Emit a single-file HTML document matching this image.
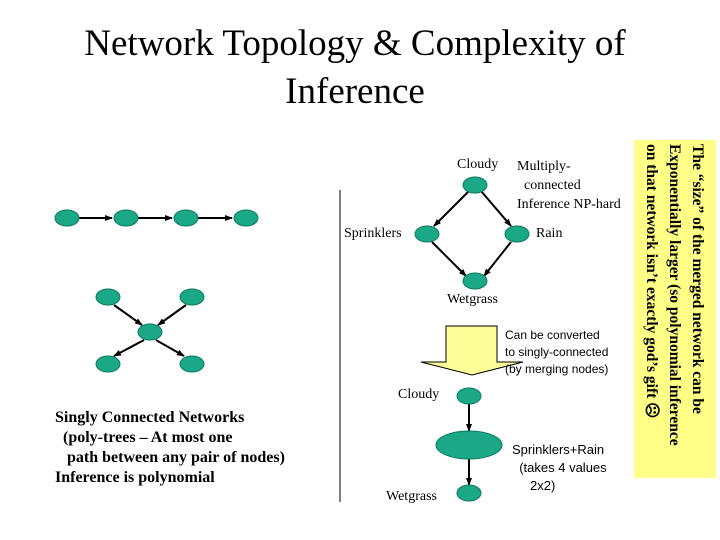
<!DOCTYPE html>
<html><head><style>
body{margin:0;width:720px;height:540px;background:#fff;position:relative;overflow:hidden;font-family:"Liberation Serif",serif}
.t{position:absolute;white-space:nowrap}
</style></head><body>
<div class="t" style="left:0;width:710px;text-align:center;top:20px;font-size:37px;line-height:48px">Network Topology &amp; Complexity of<br>Inference</div>
<svg width="720" height="540" style="position:absolute;left:0;top:0">
<defs><marker id="a" markerWidth="8" markerHeight="8" refX="7" refY="4" orient="auto" markerUnits="userSpaceOnUse"><path d="M0,1 L8,4 L0,7z" fill="#000"/></marker></defs>
<g stroke="#000" stroke-width="2" marker-end="url(#a)">
<line x1="78" y1="218" x2="112" y2="218"/><line x1="138" y1="218" x2="172" y2="218"/><line x1="198" y1="218" x2="232" y2="218"/>
<line x1="114" y1="305" x2="142" y2="325"/><line x1="186" y1="305" x2="158" y2="325"/>
<line x1="144" y1="340" x2="114" y2="356"/><line x1="156" y1="340" x2="184" y2="356"/>
<line x1="469" y1="191" x2="434" y2="226"/><line x1="481" y1="191" x2="511" y2="226"/>
<line x1="432" y1="242" x2="466" y2="276"/><line x1="511" y1="242" x2="484" y2="276"/>
<line x1="469" y1="404" x2="469" y2="431"/><line x1="469" y1="459" x2="469" y2="485"/>
</g>
<g fill="#1aa886" stroke="#0f7a60" stroke-width="1">
<ellipse cx="67" cy="218" rx="12" ry="8"/><ellipse cx="126" cy="218" rx="12" ry="8"/><ellipse cx="186" cy="218" rx="12" ry="8"/><ellipse cx="246" cy="218" rx="12" ry="8"/>
<ellipse cx="108" cy="297" rx="12" ry="8"/><ellipse cx="192" cy="297" rx="12" ry="8"/><ellipse cx="150" cy="332" rx="12" ry="8"/><ellipse cx="108" cy="364" rx="12" ry="8"/><ellipse cx="192" cy="364" rx="12" ry="8"/>
<ellipse cx="475" cy="185" rx="12" ry="8"/><ellipse cx="427" cy="234" rx="12" ry="8"/><ellipse cx="517" cy="234" rx="12" ry="8"/><ellipse cx="475" cy="281" rx="12" ry="8"/>
<ellipse cx="469" cy="396" rx="12" ry="8"/><ellipse cx="469" cy="445" rx="33" ry="14"/><ellipse cx="469" cy="493" rx="12" ry="8"/>
</g>
<line x1="340" y1="190" x2="340" y2="502" stroke="#000" stroke-width="1"/>
<path d="M446,326 L497,326 L497,362 L523,362 L472,375 L421,362 L446,362z" fill="#ffff99" stroke="#000" stroke-width="1"/>
<rect x="634" y="140" width="82" height="338" fill="#ffff88"/>
</svg>
<div class="t" style="font-size:14px;left:457px;top:157px">Cloudy</div>
<div class="t" style="font-size:14px;left:517px;top:157px;line-height:19px">Multiply-<br>&nbsp;&nbsp;connected<br>Inference NP-hard</div>
<div class="t" style="font-size:14px;left:344px;top:226px">Sprinklers</div>
<div class="t" style="font-size:14px;left:536px;top:226px">Rain</div>
<div class="t" style="font-size:14px;left:447px;top:292px">Wetgrass</div>
<div class="t" style="font-family:'Liberation Sans',sans-serif;font-size:12px;left:505px;top:327px;line-height:17px">Can be converted<br>to singly-connected<br>(by merging nodes)</div>
<div class="t" style="font-size:14px;left:398px;top:387px">Cloudy</div>
<div class="t" style="font-size:14px;left:386px;top:489px">Wetgrass</div>
<div class="t" style="font-family:'Liberation Sans',sans-serif;font-size:13px;left:512px;top:441px;line-height:18px">Sprinklers+Rain<br>&nbsp;&nbsp;(takes 4 values<br>&nbsp;&nbsp;&nbsp;&nbsp;&nbsp;2x2)</div>
<div class="t" style="font-size:16px;font-weight:bold;left:55px;top:408px;line-height:20px">Singly Connected Networks<br>&nbsp;&nbsp;(poly-trees – At most one<br>&nbsp;&nbsp;&nbsp;path between any pair of nodes)<br>Inference is polynomial</div>
<div class="t" style="font-size:15.5px;font-weight:bold;line-height:23px;left:709px;top:144px;transform-origin:0 0;transform:rotate(90deg)">The “size” of the merged network can be<br>Exponentially larger (so polynomial inference<br>on that network isn’t exactly god’s gift ☹</div>
</body></html>
